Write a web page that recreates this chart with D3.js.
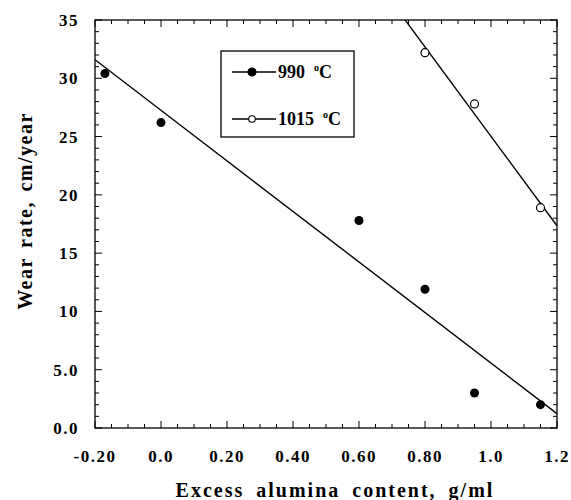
<!DOCTYPE html>
<html lang="en">
<head>
  <meta charset="UTF-8">
  <title>Wear rate vs excess alumina</title>
<script src="https://d3js.org/d3.v7.min.js"></script>
<style>
  body { margin: 0; background: #fff; }
  text { font-family: "Liberation Serif", "Times New Roman", serif; font-weight: bold; fill: #000; }
</style>
</head>
<body>
<div id="chart"></div>
<script>

// data
const x990 = [-0.17, 0.0, 0.60, 0.80, 0.95, 1.15];
const y990 = [30.4, 26.2, 17.8, 11.9, 3.0, 2.0];
const x1015 = [0.80, 0.95, 1.15];
const y1015 = [32.2, 27.8, 18.9];

const xTicks = [-0.2, 0.0, 0.2, 0.4, 0.6, 0.8, 1.0, 1.2];
const xTickLabels = ['-0.20', '0.0', '0.20', '0.40', '0.60', '0.80', '1.0', '1.2'];
const yTicks = [0, 5, 10, 15, 20, 25, 30, 35];
const yTickLabels = ['0.0', '5.0', '10', '15', '20', '25', '30', '35'];

const width = 571, height = 500;
const margin = { left: 95, right: 14, top: 20, bottom: 72 };
const pw = width - margin.left - margin.right;
const ph = height - margin.top - margin.bottom;

const x = d3.scaleLinear().domain([-0.2, 1.2]).range([0, pw]);
const y = d3.scaleLinear().domain([0, 35]).range([ph, 0]);

const svg = d3.select('#chart').append('svg')
  .attr('width', width).attr('height', height);
const g = svg.append('g').attr('transform', `translate(${margin.left},${margin.top})`);

g.append('clipPath').attr('id', 'clip')
  .append('rect').attr('width', pw).attr('height', ph);

// frame
g.append('rect').attr('width', pw).attr('height', ph)
  .attr('fill', 'none').attr('stroke', '#000').attr('stroke-width', 1.3);

// inward ticks on all four sides
const xMinor = d3.range(-0.2, 1.2001, 0.05);
const yMinor = d3.range(0, 35.001, 1);
function tickLen(v, step) { return Math.abs(v / step - Math.round(v / step)) < 1e-6 ? 7 : 4; }

xMinor.forEach(v => {
  const L = tickLen(v, 0.2);
  g.append('line').attr('x1', x(v)).attr('x2', x(v)).attr('y1', ph).attr('y2', ph - L).attr('stroke', '#000');
  g.append('line').attr('x1', x(v)).attr('x2', x(v)).attr('y1', 0).attr('y2', L).attr('stroke', '#000');
});
yMinor.forEach(v => {
  const L = tickLen(v, 5);
  g.append('line').attr('y1', y(v)).attr('y2', y(v)).attr('x1', 0).attr('x2', L).attr('stroke', '#000');
  g.append('line').attr('y1', y(v)).attr('y2', y(v)).attr('x1', pw).attr('x2', pw - L).attr('stroke', '#000');
});

// tick labels
g.selectAll('.xl').data(xTicks).enter().append('text')
  .attr('x', d => x(d)).attr('y', ph + 34)
  .attr('text-anchor', 'middle').attr('font-size', 17).attr('letter-spacing', 1.5)
  .text((d, i) => xTickLabels[i]);
g.selectAll('.yl').data(yTicks).enter().append('text')
  .attr('x', -16).attr('y', d => y(d) + 6)
  .attr('text-anchor', 'end').attr('font-size', 17).attr('letter-spacing', 1.5)
  .text((d, i) => yTickLabels[i]);

// axis titles
svg.append('text')
  .attr('x', 335).attr('y', 497)
  .attr('text-anchor', 'middle').attr('font-size', 20).attr('letter-spacing', 2).attr('word-spacing', 5)
  .text('Excess alumina content, g/ml');
svg.append('text')
  .attr('transform', `translate(32,211) rotate(-90)`)
  .attr('text-anchor', 'middle').attr('font-size', 20).attr('letter-spacing', 1.5).attr('word-spacing', 3)
  .text('Wear rate, cm/year');

// least squares fit lines
function fit(xs, ys) {
  const mx = d3.mean(xs), my = d3.mean(ys);
  const sxy = d3.sum(xs, (v, i) => (v - mx) * (ys[i] - my));
  const sxx = d3.sum(xs, v => (v - mx) * (v - mx));
  const b = sxy / sxx;
  return v => my + b * (v - mx);
}
const f990 = fit(x990, y990);
const f1015 = fit(x1015, y1015);
[f990, f1015].forEach(f => {
  g.append('line')
    .attr('clip-path', 'url(#clip)')
    .attr('x1', x(-0.2)).attr('y1', y(f(-0.2)))
    .attr('x2', x(1.2)).attr('y2', y(f(1.2)))
    .attr('stroke', '#000').attr('stroke-width', 1.4);
});

// markers
g.selectAll('.p990').data(x990).enter().append('circle')
  .attr('cx', d => x(d)).attr('cy', (d, i) => y(y990[i])).attr('r', 4.5).attr('fill', '#000');
g.selectAll('.p1015').data(x1015).enter().append('circle')
  .attr('cx', d => x(d)).attr('cy', (d, i) => y(y1015[i])).attr('r', 4)
  .attr('fill', '#fff').attr('stroke', '#000').attr('stroke-width', 1.2);

// legend
const lg = svg.append('g').attr('transform', 'translate(221,51)');
lg.append('rect').attr('width', 133).attr('height', 86)
  .attr('fill', '#fff').attr('stroke', '#000').attr('stroke-width', 1.3);
const legendItems = [
  { label: '990', filled: true, yy: 21 },
  { label: '1015', filled: false, yy: 68 }
];
legendItems.forEach(it => {
  lg.append('line').attr('x1', 11).attr('x2', 55).attr('y1', it.yy).attr('y2', it.yy)
    .attr('stroke', '#000').attr('stroke-width', 1.3);
  lg.append('circle').attr('cx', 31).attr('cy', it.yy).attr('r', it.filled ? 4 : 3.3)
    .attr('fill', it.filled ? '#000' : '#fff').attr('stroke', '#000').attr('stroke-width', 1.1);
  const t = lg.append('text').attr('x', 57).attr('y', it.yy + 6).attr('font-size', 18)
    .style('white-space', 'pre');
  t.append('tspan').text(it.label + '  ');
  t.append('tspan').attr('font-size', 10).attr('dy', -7).text('o');
  t.append('tspan').attr('dy', 7).text('C');
});

</script>
</body>
</html>
